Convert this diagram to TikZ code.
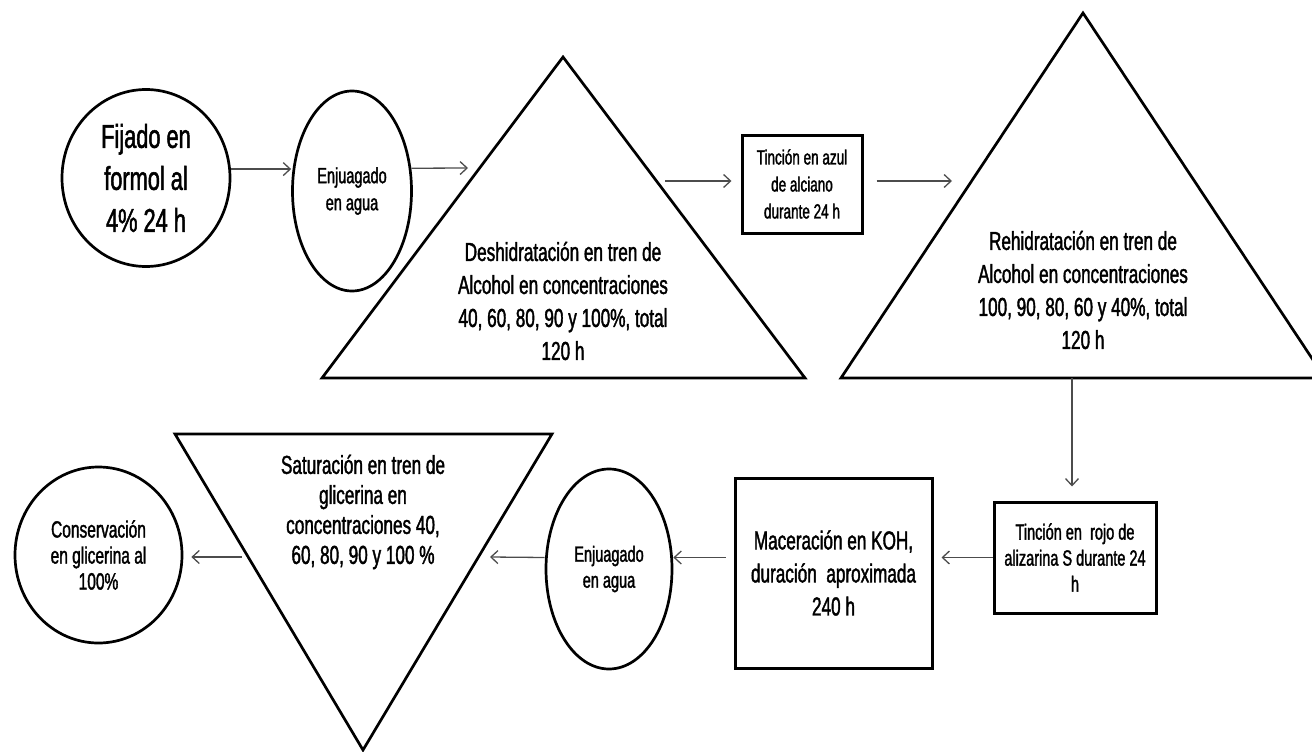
\documentclass[tikz,border=0pt]{standalone}
\usepackage{fontspec}
\setmainfont{Liberation Sans}[FakeStretch=0.66,FakeBold=1.5]
\usetikzlibrary{arrows.meta,shapes.geometric}

\begin{document}
\begin{tikzpicture}[x=1pt,y=1pt,yscale=-1,
  round stage/.style={ellipse,draw,line width=2.7pt,inner sep=0pt,align=center},
  box stage/.style={rectangle,draw,line width=3pt,inner sep=0pt,align=center},
  tri line/.style={line width=2.7pt,line join=miter},
  tri text/.style={align=center,inner sep=0pt},
  flow/.style={draw=black!70,line width=1.3pt,-{Straight Barb[length=7pt,width=13pt,line width=1.3pt]}}]
\useasboundingbox (0,0) rectangle (1312,752);
\clip (0,0) rectangle (1312,752);

%triangle corners
\coordinate (desh l) at (322,378);
\coordinate (desh r) at (805,378);
\coordinate (desh top) at (563,57);
\coordinate (rehi l) at (841,378);
\coordinate (rehi r) at (1325,378);
\coordinate (rehi top) at (1083,13);
\coordinate (satu l) at (175,434);
\coordinate (satu r) at (552,434);
\coordinate (satu bot) at (363,750);
%free arrow ends on the triangles
\coordinate (desh in) at (468,168);
\coordinate (desh out) at (665,181);
\coordinate (rehi in) at (952,181);
\coordinate (rehi out) at (1072,378);
\coordinate (satu in) at (490,557);
\coordinate (satu out) at (242,557);

%Triangles
\draw[tri line] (desh l) -- (desh r) -- (desh top) -- cycle;
\draw[tri line] (rehi l) -- (rehi r) -- (rehi top) -- cycle;
\draw[tri line] (satu l) -- (satu r) -- (satu bot) -- cycle;

%Stages, top row
\node[round stage,minimum width=168pt,minimum height=177pt,font=\fontsize{33}{42}\selectfont] (fijado) at (146,178) {Fijado en\\formol al\\4\% 24 h};
\node[round stage,minimum width=119pt,minimum height=200pt,font=\fontsize{22}{27}\selectfont] (enjuague1) at (352,191) {Enjuagado\\en agua};
\node[tri text,font=\fontsize{26}{33}\selectfont] (deshidra) at (563,301) {Deshidratación en tren de\\Alcohol en concentraciones\\40, 60, 80, 90 y 100\%, total\\120 h};
\node[box stage,minimum width=120pt,minimum height=98pt,font=\fontsize{20.5}{27}\selectfont] (azul) at (802,184) {Tinción en azul\\de alciano\\durante 24 h};
\node[tri text,font=\fontsize{26}{33}\selectfont] (rehidra) at (1083,290) {Rehidratación en tren de\\Alcohol en concentraciones\\100, 90, 80, 60 y 40\%, total\\120 h};

%Stages, bottom row
\node[box stage,minimum width=162pt,minimum height=111pt,font=\fontsize{22}{26}\selectfont] (rojo) at (1075,557.5) {Tinción en \ rojo de\\alizarina S durante 24\\h};
\node[box stage,minimum width=197pt,minimum height=190pt,font=\fontsize{26}{33}\selectfont] (macera) at (833.5,573) {Maceración en KOH,\\duración \ aproximada\\240 h};
\node[round stage,minimum width=126pt,minimum height=200pt,font=\fontsize{22}{26}\selectfont] (enjuague2) at (609,569) {Enjuagado\\en agua};
\node[tri text,font=\fontsize{26}{30}\selectfont] (satura) at (363,512) {Saturación en tren de\\glicerina en\\concentraciones 40,\\60, 80, 90 y 100 \%};
\node[round stage,minimum width=167pt,minimum height=176pt,font=\fontsize{23.5}{26}\selectfont] (conserva) at (98.5,555) {Conservación\\en glicerina al\\100\%};

%Arrows
\draw[flow] (fijado.6) -- (fijado.6 -| enjuague1.west);
\draw[flow] (enjuague1.21) -- (desh in);
\draw[flow,shorten >=9pt] (desh out) -- (desh out -| azul.west);
\draw[flow,shorten <=13pt] (rehi in -| azul.east) -- (rehi in);
\draw[flow,shorten >=14pt] (rehi out) -- (rehi out |- rojo.north);
\draw[flow,shorten >=8pt] (rojo.west) -- (rojo.west -| macera.east);
\draw[flow,shorten <=8pt] (rojo.west -| macera.west) -- (rojo.west -| enjuague2.east);
\draw[flow] (rojo.west -| enjuague2.west) -- (satu in);
\draw[flow,shorten >=8pt] (satu out) -- (satu out -| conserva.east);

\end{tikzpicture}
\end{document}
